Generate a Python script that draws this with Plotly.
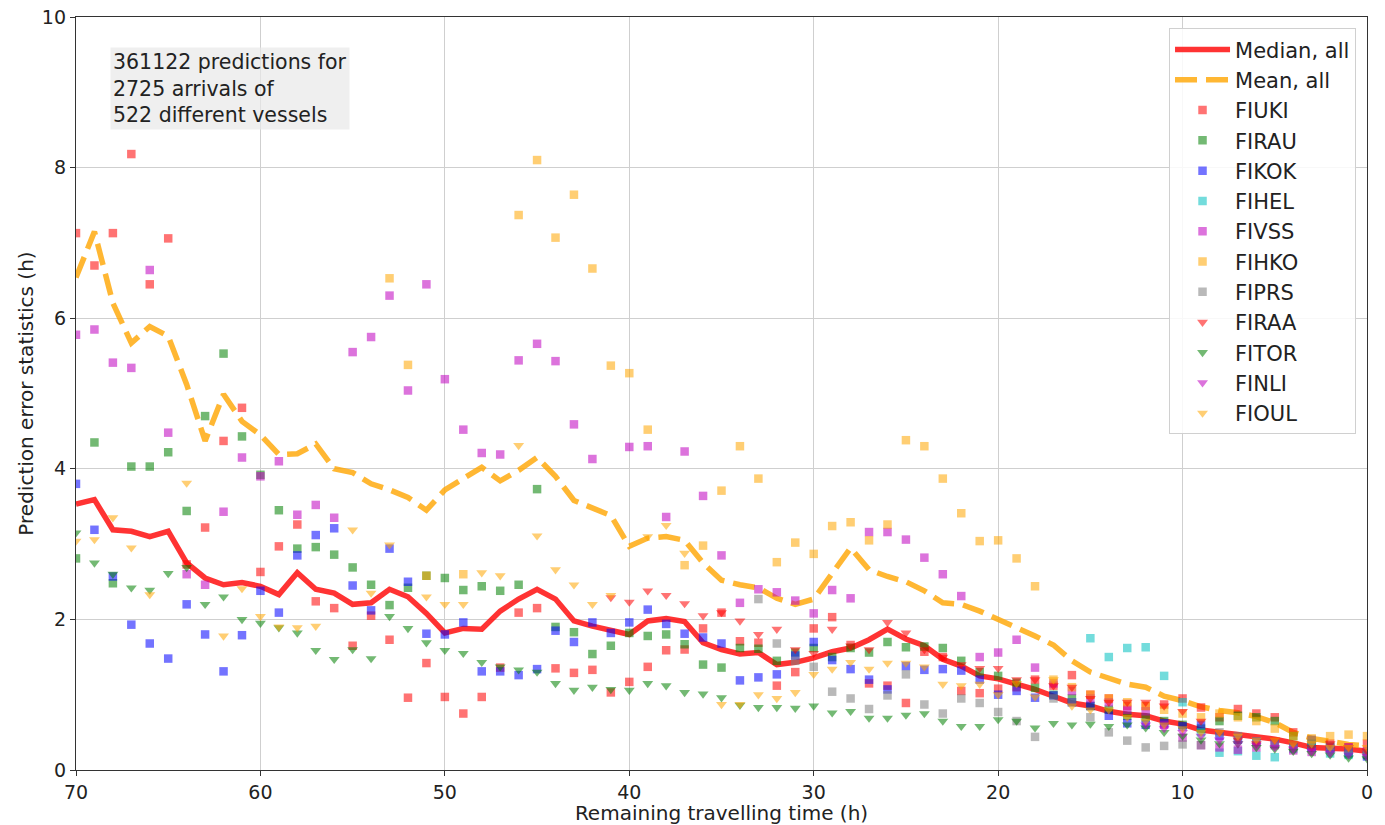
import plotly.graph_objects as go

hours = list(range(70, -1, -1))

median_all = [3.53, 3.59, 3.19, 3.17, 3.10, 3.17, 2.75, 2.55, 2.46, 2.49,
              2.44, 2.33, 2.62, 2.40, 2.35, 2.20, 2.22, 2.40, 2.30, 2.08,
              1.82, 1.88, 1.87, 2.11, 2.27, 2.40, 2.27, 1.98, 1.91, 1.85,
              1.80, 1.98, 2.01, 1.97, 1.69, 1.60, 1.54, 1.56, 1.40, 1.43,
              1.49, 1.57, 1.62, 1.73, 1.87, 1.74, 1.65, 1.47, 1.38, 1.25,
              1.21, 1.14, 1.07, 0.98, 0.89, 0.85, 0.78, 0.74, 0.72, 0.65,
              0.61, 0.53, 0.50, 0.47, 0.43, 0.41, 0.36, 0.30, 0.29, 0.28,
              0.25]

mean_all = [6.54, 7.15, 6.20, 5.67, 5.89, 5.76, 5.12, 4.37, 4.99, 4.63,
            4.45, 4.19, 4.20, 4.33, 4.00, 3.95, 3.80, 3.72, 3.62, 3.45,
            3.72, 3.88, 4.02, 3.84, 3.98, 4.15, 3.90, 3.58, 3.48, 3.38,
            2.97, 3.08, 3.10, 3.05, 2.75, 2.52, 2.46, 2.42, 2.28, 2.20,
            2.27, 2.62, 2.95, 2.66, 2.57, 2.50, 2.38, 2.22, 2.20, 2.11,
            2.00, 1.90, 1.78, 1.66, 1.45, 1.30, 1.22, 1.14, 1.10, 0.98,
            0.92, 0.84, 0.79, 0.76, 0.71, 0.63, 0.50, 0.42, 0.38, 0.34,
            0.32]

fiuki = [7.13, 6.70, 7.13, 8.18, 6.45, 7.06, 2.73, 3.22, 4.37, 4.81,
         2.63, 2.97, 3.26, 2.24, 2.15, 1.65, 2.05, 1.73, 0.96, 1.42,
         0.97, 0.75, 0.97, 1.36, 2.09, 2.15, 1.35, 1.29, 1.33, 1.03,
         1.17, 1.37, 1.59, 1.60, 1.88, 2.09, 1.71, 1.69, 1.12, 1.30,
         1.88, 2.03, 1.66, 1.15, 1.12, 0.89, 1.57, 1.50, 1.05, 1.02,
         1.08, 1.10, 1.20, 1.12, 1.26, 1.00, 0.95, 0.85, 0.85, 0.87,
         0.95, 0.83, 0.70, 0.81, 0.75, 0.70, 0.50, 0.40, 0.35, 0.30,
         0.35]

firau = [2.81, 4.35, 2.48, 4.03, 4.03, 4.22, 3.44, 4.70, 5.53, 4.43,
         3.92, 3.45, 2.94, 2.96, 2.86, 2.69, 2.46, 2.19, 2.42, 2.58,
         2.55, 2.39, 2.44, 2.38, 2.46, 3.73, 1.90, 1.83, 1.54, 1.65,
         1.82, 1.78, 1.80, 1.67, 1.40, 1.36, 1.62, 1.61, 1.45, 1.56,
         1.62, 1.50, 1.62, 1.56, 1.70, 1.63, 1.64, 1.62, 1.45, 1.30,
         1.25, 1.16, 1.09, 1.00, 0.95, 0.85, 0.80, 0.72, 0.70, 0.65,
         0.60, 0.55, 0.65, 0.72, 0.70, 0.65, 0.45, 0.35, 0.30, 0.25,
         0.20]

fikok = [3.80, 3.19, 2.57, 1.93, 1.68, 1.48, 2.20, 1.80, 1.31, 1.79,
         2.38, 2.09, 2.85, 3.12, 3.21, 2.45, 2.12, 2.94, 2.50, 1.81,
         1.80, 1.96, 1.31, 1.31, 1.26, 1.34, 1.85, 1.70, 1.96, 1.82,
         1.96, 2.13, 1.94, 1.81, 1.76, 1.68, 1.19, 1.23, 1.27, 1.52,
         1.70, 1.46, 1.34, 1.20, 1.07, 1.38, 1.33, 1.34, 1.32, 1.20,
         1.00, 1.05, 0.96, 0.99, 0.90, 0.85, 0.72, 0.62, 0.60, 0.62,
         0.58, 0.60, 0.45, 0.40, 0.38, 0.35, 0.32, 0.30, 0.28, 0.22,
         0.18]

fihel_hours = list(range(15, -1, -1))
fihel = [1.75, 1.50, 1.62, 1.63, 1.25, 0.90, 0.50, 0.23, 0.25, 0.19,
         0.17, 0.28, 0.30, 0.22, 0.20, 0.22]

fivss = [5.78, 5.85, 5.41, 5.34, 6.64, 4.48, 2.60, 2.46, 3.43, 4.15,
         3.90, 4.10, 3.39, 3.52, 3.35, 5.55, 5.75, 6.30, 5.04, 6.45,
         5.19, 4.52, 4.21, 4.19, 5.44, 5.66, 5.43, 4.59, 4.13, None,
         4.29, 4.30, 3.36, 4.23, 3.64, 2.85, 2.22, 2.40, 2.36, 2.25,
         2.08, 2.39, 2.28, 3.16, 3.16, 3.06, 2.82, 2.60, 2.31, 1.50,
         1.56, 1.73, 1.36, 1.15, 1.05, 0.95, 0.90, 0.80, 0.78, 0.60,
         0.43, 0.33, 0.30, 0.27, 0.30, 0.33, 0.26, 0.24, 0.30, 0.30,
         0.25]

fihko_hours = list(range(53, -1, -1))
fihko = [6.53, 5.38, 2.58, None, 2.60, None, None, 7.37, 8.10, 7.07,
         7.64, 6.66, 5.37, 5.27, 4.52, None, 2.72, 2.98, 3.71, 4.30,
         3.87, 2.76, 3.02, 2.87, 3.24, 3.29, 3.05, 3.26, 4.38, 4.30,
         3.87, 3.41, 3.04, 3.05, 2.81, 2.44, 1.20, 1.10, 1.00, 0.95,
         0.90, 0.85, 0.80, 0.75, 0.70, 0.75, 0.70, 0.65, 0.55, 0.45,
         0.42, 0.45, 0.47, 0.45]

fiprs_hours = list(range(33, -1, -1))
fiprs = [2.27, 1.68, 1.45, 1.37, 1.04, 0.95, 0.81, 0.99, 1.27, 0.87,
         0.75, 0.95, 0.89, 0.77, 0.65, 0.44, 0.95, 0.90, 0.70, 0.50,
         0.39, 0.30, 0.32, 0.34, 0.33, 0.50, 0.45, 0.38, 0.35, 0.30,
         0.40, 0.32, 0.28, 0.22]

firaa_hours = list(range(41, -1, -1))
firaa = [2.29, 2.23, 2.38, 2.32, 2.21, 2.05, 2.09, 1.98, 1.80, 1.87,
         1.60, 1.55, 1.87, 1.65, 1.60, 1.96, 1.82, 1.60, 1.50, 1.40,
         1.35, 1.35, 1.20, 1.20, 1.12, 1.10, 0.95, 0.90, 0.90, 0.90,
         0.85, 0.78, 0.65, 0.50, 0.40, 0.35, 0.40, 0.35, 0.30, 0.35,
         0.30, 0.25]

fitor = [3.15, 2.75, 2.60, 2.42, 2.39, 2.61, 2.69, 2.20, 2.30, 2.00,
         1.95, 1.89, 1.82, 1.59, 1.47, 1.60, 1.48, 2.04, 1.88, 1.69,
         1.59, 1.55, 1.43, 1.37, 1.33, 1.30, 1.15, 1.06, 1.10, 1.07,
         1.06, 1.15, 1.12, 1.03, 1.01, 0.96, 0.86, 0.83, 0.83, 0.82,
         0.85, 0.76, 0.78, 0.69, 0.69, 0.73, 0.75, 0.65, 0.58, 0.58,
         0.67, 0.65, 0.56, 0.62, 0.60, 0.61, 0.58, 0.60, 0.56, 0.50,
         0.45, 0.40, 0.35, 0.35, 0.30, 0.28, 0.25, 0.22, 0.20, 0.16,
         0.15]

finli_hours = list(range(12, -1, -1))
finli = [0.60, 0.55, 0.50, 0.45, 0.40, 0.35, 0.33, 0.30, 0.28, 0.25,
         0.22, 0.20, 0.18]

fioul = [3.04, 3.06, 3.35, 2.95, 2.33, None, 3.81, None, 1.78, 2.41,
         2.04, 1.90, 1.89, 1.91, None, 3.19, 2.35, 2.99, None, 2.30,
         2.20, 2.20, 2.62, 2.58, 4.31, 3.11, 2.66, 2.46, 2.20, 2.32,
         None, 3.10, 3.25, 2.88, None, 0.87, 0.87, 1.00, 0.95, 1.03,
         1.27, 1.34, 1.43, 1.34, 1.42, 1.42, 1.37, 1.14, 1.12, 1.14,
         1.00, 1.15, 0.97, 1.20, 0.85, 0.80, 0.80, 0.70, 0.65, 0.60,
         0.55, 0.50, 0.50, 0.45, 0.40, 0.40, 0.35, 0.35, 0.30, 0.30,
         0.30]

x_ticks = [70, 60, 50, 40, 30, 20, 10, 0]
y_ticks = [0, 2, 4, 6, 8, 10]

FONT = "DejaVu Sans"

series = [
    ("FIUKI", hours, fiuki, "#ff0000", "square"),
    ("FIRAU", hours, firau, "#008000", "square"),
    ("FIKOK", hours, fikok, "#0000ff", "square"),
    ("FIHEL", fihel_hours, fihel, "#00bfbf", "square"),
    ("FIVSS", hours, fivss, "#bf00bf", "square"),
    ("FIHKO", fihko_hours, fihko, "#ffa500", "square"),
    ("FIPRS", fiprs_hours, fiprs, "#808080", "square"),
    ("FIRAA", firaa_hours, firaa, "#ff0000", "triangle-down"),
    ("FITOR", hours, fitor, "#008000", "triangle-down"),
    ("FINLI", finli_hours, finli, "#bf00bf", "triangle-down"),
    ("FIOUL", hours, fioul, "#ffa500", "triangle-down"),
]

fig = go.Figure()

fig.add_trace(go.Scatter(x=hours, y=median_all, mode="lines", name="Median, all",
                         line=dict(color="rgba(255,0,0,0.8)", width=5.5)))
fig.add_trace(go.Scatter(x=hours, y=mean_all, mode="lines", name="Mean, all",
                         line=dict(color="rgba(255,165,0,0.8)", width=5.5, dash="22px,9px")))

for name, hx, vals, col, sym in series:
    fig.add_trace(go.Scatter(x=hx, y=vals, mode="markers", name=name,
                             marker=dict(color=col, symbol=sym, size=8.5 if sym == "square" else 9.5,
                                         opacity=0.55, line=dict(width=0))))

fig.add_annotation(x=0.026, y=0.96, xref="paper", yref="paper", xanchor="left", yanchor="top",
                   align="left", showarrow=False,
                   text="361122 predictions for<br>2725 arrivals of<br>522 different vessels",
                   font=dict(family=FONT, size=20.5, color="#222222"),
                   bgcolor="rgba(232,232,232,0.7)", borderpad=2)

axis_common = dict(showline=True, linecolor="#333333", linewidth=1.3, mirror=True,
                   showgrid=True, gridcolor="#cfcfcf", gridwidth=1,
                   ticks="outside", ticklen=5, tickcolor="#333333", automargin=False,
                   tickfont=dict(family=FONT, size=19, color="#222222"), zeroline=False)

fig.update_layout(
    width=1385, height=825,
    margin=dict(l=76, r=18, t=17, b=55),
    plot_bgcolor="white", paper_bgcolor="white",
    font=dict(family=FONT, color="#222222"),
    xaxis=dict(range=[70, 0], tickvals=x_ticks,
               title=dict(text="Remaining travelling time (h)", font=dict(family=FONT, size=20), standoff=8),
               **axis_common),
    yaxis=dict(range=[0, 10], tickvals=y_ticks,
               title=dict(text="Prediction error statistics (h)", font=dict(family=FONT, size=20), standoff=2),
               **axis_common),
    legend=dict(x=0.9915, y=0.985, xanchor="right", yanchor="top", itemwidth=55,
                bgcolor="rgba(255,255,255,0.85)", bordercolor="#d0d0d0", borderwidth=1,
                font=dict(family=FONT, size=21, color="#222222"), tracegroupgap=0),
    showlegend=True,
)

fig.write_html("out.html", config={"displayModeBar": False},
               post_script="document.body.style.margin='0px';")
